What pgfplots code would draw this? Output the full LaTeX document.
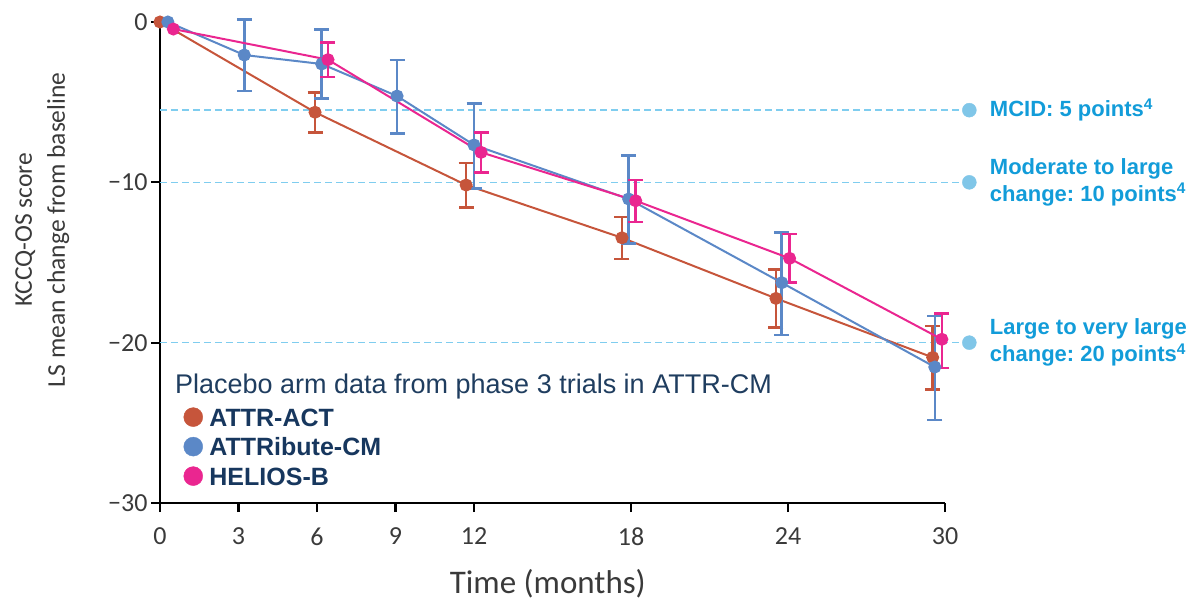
\documentclass[border=0pt]{standalone}
\usepackage{fontspec}
\setmainfont{Liberation Sans}
\newfontfamily\carlito{Carlito}
\usepackage{pgfplots}
\pgfplotsset{compat=1.18}
\frenchspacing
\definecolor{corange}{HTML}{C6553B}
\definecolor{cblue}{HTML}{5B88C7}
\definecolor{cpink}{HTML}{EA2690}
\definecolor{navy}{HTML}{17375E}
\definecolor{navytitle}{HTML}{1F3D5F}
\definecolor{reftext}{HTML}{129CD9}
\definecolor{refline}{HTML}{7FCDEF}
\definecolor{refdot}{HTML}{80C6E8}
\definecolor{tickgray}{HTML}{3A3A3A}
\pgfplotsset{errstyle/.style={only marks, mark=none, forget plot,
  error bars/.cd, y dir=both, y explicit,
  error bar style={line width=2.5pt},
  error mark options={rotate=90, line width=2.5pt, mark size=7.5pt}}}
\begin{document}
\begin{tikzpicture}
\path (-160pt,-95pt) rectangle (1038pt,503pt);
\begin{axis}[
  scale only axis, width=785pt, height=481pt,
  xmin=0, xmax=10, ymin=-30, ymax=0,
  enlargelimits=false,
  axis lines=left, axis line style={-, line width=2.2pt, black},
  tick align=outside, major tick length=9pt,
  tick style={black, line width=2.2pt},
  xtick={0,1,2,3,4,6,8,10}, xticklabels={0,3,6,9,12,18,24,30},
  ytick={-30,-20,-10,0}, yticklabels={−30,−20,−10,0},
  ticklabel style={font=\carlito\fontsize{26}{26}\selectfont, text=tickgray},
  xticklabel style={yshift=-12pt},
  ylabel={KCCQ-OS score\\LS mean change from baseline},
  ylabel style={font=\carlito\fontsize{25.5}{33}\selectfont, text=tickgray, align=center, at={(axis description cs:-0.150,0.568)}, anchor=center},
  xlabel={Time (months)},
  xlabel style={font=\carlito\fontsize{33}{33}\selectfont, text=tickgray, at={(axis description cs:0.494,0)}, anchor=base, yshift=-90pt},
  clip=false,
  legend style={at={(axis cs:0.30,-24.02)}, anchor=north west, draw=none, fill=none, inner sep=0pt, outer sep=0pt,
    font=\bfseries\fontsize{25}{25}\selectfont, text=navy, row sep=9.5pt,
    nodes={inner sep=1pt, text height=18pt, text depth=0pt},
    /tikz/every odd column/.append style={column sep=5.5pt}},
  legend cell align=left,
]
% reference lines
\addplot[refline, line width=1.6pt, dash pattern=on 7pt off 4pt, forget plot] coordinates {(0,-5.5) (10.31,-5.5)};
\addplot[refline, line width=1.6pt, dash pattern=on 7pt off 4pt, forget plot] coordinates {(0,-10) (10.31,-10)};
\addplot[refline, line width=1.6pt, dash pattern=on 7pt off 4pt, forget plot] coordinates {(0,-20) (10.31,-20)};
\addplot[refdot, only marks, mark=*, mark size=7pt, forget plot] coordinates {(10.31,-5.5) (10.31,-10) (10.31,-20)};

% ATTR-ACT
\addplot[corange, errstyle]
  coordinates {
  (1.975,-5.63) += (0,1.24) -= (0,1.25)
  (3.90,-10.17) += (0,1.39) -= (0,1.41)
  (5.885,-13.46) += (0,1.31) -= (0,1.31)
  (7.847,-17.24) += (0,1.81) -= (0,1.81)
  (9.843,-20.92) += (0,1.96) -= (0,1.99)
  };
\addplot[corange, line width=2pt, mark=*, mark size=5.5pt, forget plot] coordinates {
  (0,0) (1.975,-5.63) (3.90,-10.17) (5.885,-13.46) (7.847,-17.24) (9.843,-20.92)};

% ATTRibute-CM
\addplot[cblue, errstyle]
  coordinates {
  (1.074,-2.06) += (0,2.23) -= (0,2.23)
  (2.06,-2.62) += (0,2.16) -= (0,2.14)
  (3.02,-4.62) += (0,2.25) -= (0,2.32)
  (4.00,-7.67) += (0,2.60) -= (0,2.70)
  (5.97,-11.04) += (0,2.70) -= (0,2.77)
  (7.92,-16.26) += (0,3.12) -= (0,3.27)
  (9.87,-21.52) += (0,3.18) -= (0,3.31)
  };
\addplot[cblue, line width=2pt, mark=*, mark size=5.5pt, forget plot] coordinates {
  (0.10,0) (1.074,-2.06) (2.06,-2.62) (3.02,-4.62) (4.00,-7.67) (5.97,-11.04) (7.92,-16.26) (9.87,-21.52)};

% HELIOS-B
\addplot[cpink, errstyle]
  coordinates {
  (2.14,-2.35) += (0,1.08) -= (0,1.08)
  (4.09,-8.13) += (0,1.25) -= (0,1.25)
  (6.06,-11.15) += (0,1.29) -= (0,1.31)
  (8.02,-14.74) += (0,1.51) -= (0,1.52)
  (9.96,-19.79) += (0,1.62) -= (0,1.78)
  };
\addplot[cpink, line width=2pt, mark=*, mark size=5.5pt, forget plot] coordinates {
  (0.17,-0.44) (2.14,-2.35) (4.09,-8.13) (6.06,-11.15) (8.02,-14.74) (9.96,-19.79)};

\addlegendimage{legend image code/.code={\fill[corange] (0pt,0pt) circle (9.5pt);}}
\addlegendentry{ATTR-ACT}
\addlegendimage{legend image code/.code={\fill[cblue] (0pt,0pt) circle (9.5pt);}}
\addlegendentry{ATTRibute-CM}
\addlegendimage{legend image code/.code={\fill[cpink] (0pt,0pt) circle (9.5pt);}}
\addlegendentry{HELIOS-B}

\node[anchor=base west, inner sep=0pt, font=\fontsize{27}{27}\selectfont, text=navytitle] at (axis cs:0.19,-23.14) {Placebo arm data from phase 3 trials in ATTR-CM};

\node[anchor=west, inner sep=0pt, align=left, font=\bfseries\fontsize{22}{27}\selectfont, text=reftext] at (axis cs:10.57,-5.5) {MCID: 5 points\textsuperscript{4}};
\node[anchor=west, inner sep=0pt, align=left, font=\bfseries\fontsize{22}{27}\selectfont, text=reftext] at (axis cs:10.57,-10) {Moderate to large\\change: 10 points\textsuperscript{4}};
\node[anchor=west, inner sep=0pt, align=left, font=\bfseries\fontsize{22}{27}\selectfont, text=reftext] at (axis cs:10.57,-20) {Large to very large\\change: 20 points\textsuperscript{4}};
\end{axis}
\end{tikzpicture}
\end{document}
